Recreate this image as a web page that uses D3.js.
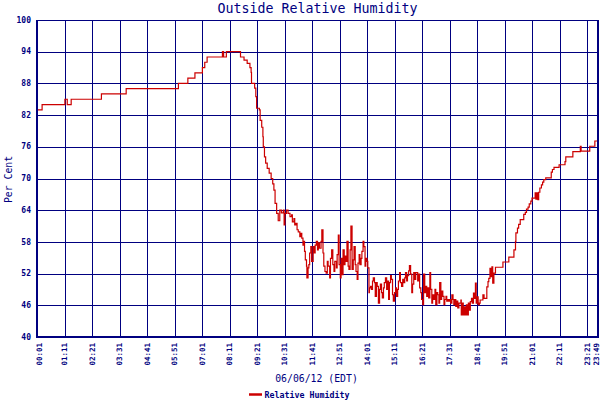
<!DOCTYPE html>
<html>
<head>
<meta charset="utf-8">
<script src="https://cdn.jsdelivr.net/npm/d3@7"></script>
<style>
  html, body { margin: 0; padding: 0; background: #fff; }
  svg { display: block; }
</style>
</head>
<body>
<svg id="chart" width="600" height="400"></svg>
<script>
// ---- Data (minutes after midnight, relative humidity %) ----
const times = [
  1, 14, 72, 78, 88, 165, 228, 361, 385, 403, 422, 428, 434, 473, 476, 483,
  519, 528, 536, 543, 546, 547, 555, 558, 560, 567, 569, 573, 576, 577, 580, 583, 587, 592, 597, 601, 604, 607, 611, 615,
  619, 623, 628, 630, 632, 636, 640, 645, 649, 651, 655, 657, 660, 663, 666, 670, 672, 675, 678, 680, 682, 684, 687, 688,
  691, 693, 695, 698, 700, 704, 706, 709, 712, 715, 717, 720, 724, 726, 729, 731, 734, 737, 740, 742, 746, 748, 751, 754,
  757, 759, 763, 765, 768, 770, 773, 775, 778, 780, 783, 785, 788, 790, 793, 795, 798, 800, 803, 806, 808, 811, 813, 816,
  818, 821, 823, 826, 828, 831, 833, 836, 838, 841, 843, 846,
  847, 850, 852, 855, 857, 860, 862, 865, 867, 870, 873, 875, 878, 880, 883, 885, 888, 891, 893, 896, 898, 901, 903, 906,
  908, 911, 914, 916, 919, 921, 924, 926, 929, 932, 934, 937, 939, 942, 944, 947, 949, 952, 955, 957, 960, 962, 965, 967,
  970, 973, 975, 978, 980, 983, 985, 988, 990, 993, 996, 998, 1001, 1003, 1006, 1008, 1011, 1014, 1016, 1019, 1021, 1024,
  1026, 1029, 1031, 1034, 1037, 1039, 1042, 1044, 1047, 1049, 1052, 1054, 1057, 1060, 1062, 1065, 1067, 1070, 1072, 1075,
  1077, 1080, 1081, 1084, 1086, 1089, 1092, 1094, 1097, 1099, 1102, 1104, 1107, 1109, 1112, 1114, 1117, 1119, 1122, 1124,
  1127, 1129, 1133, 1136, 1139, 1143, 1146, 1149, 1151, 1154, 1156, 1159, 1161, 1164, 1168, 1187, 1202, 1215, 1219, 1220,
  1224, 1227, 1231, 1240, 1244, 1247, 1251, 1254, 1258, 1261, 1269, 1271, 1274, 1276, 1278, 1281, 1285, 1288, 1291, 1296,
  1310, 1313, 1317, 1330, 1345, 1347, 1365, 1384, 1386, 1408, 1421, 1429
];
const humidity = [
  83, 84, 85, 84, 85, 86, 87, 88, 89, 90, 91, 92, 93, 94, 93, 94,
  93, 92.4, 91.8, 91, 90.1, 88, 87.1, 85.5, 83.3, 83, 81, 79.7, 77.9, 76, 74.1, 72.9, 71.9, 71, 70, 69, 67.8, 65.3, 63.4, 62,
  64, 63.5, 64, 61.2, 63.4, 64, 63.4, 62.8, 63.1, 61.8, 62.4, 61.2, 61.5, 60.3, 59.9, 59, 59.6, 58.7, 57.4, 58.1, 56.2, 54.6, 53.4, 51.2,
  53.1, 53.7, 55.9, 57.1, 54.3, 57.1, 55.9, 57.4, 58.1, 56.5, 57.8, 56.8, 58.1, 60.3, 55.9, 53.4, 52.4, 52.1, 54.3, 53.4, 51.2, 54.9, 56.5, 53.7,
  52.4, 54.3, 53.1, 55.6, 59.3, 53.7, 51.2, 54.9, 51.8, 56.5, 53.7, 55.3, 54.3, 58.1, 53.4, 52.8, 56.5, 61, 52.8, 54.6, 57.1, 53.7, 52.4, 50.9,
  54, 55.6, 53.7, 54.9, 56.2, 58.1, 57.1, 53.4, 54.9, 54.3, 53.1, 48.4,
  49.3, 49.6, 49, 50.6, 51.2, 50.3, 47.7, 50.3, 49.6, 46.4, 49, 50, 48.4, 47.4, 49.3, 50.3, 51.2, 49, 50.6, 47.1, 50.3, 51.6, 50.9, 48,
  46.8, 48.4, 49.3, 47.7, 49, 50.6, 52.2, 50.3, 49.6, 50.9, 50.3, 51.2, 52.2, 50.6, 51.6, 52.5, 53.5, 51.9, 48.4, 50, 52.2, 50.9, 52.2, 52.2,
  50.6, 51.9, 49.3, 48.4, 47.1, 46.1, 51.9, 48.4, 49.6, 47.7, 49.3, 47.4, 52.2, 49, 46.4, 48, 47.1, 49, 46.1, 48.4, 48, 46.4,
  50.3, 47.1, 48.7, 47.7, 46.1, 47.1, 47.7, 46.8, 47.1, 46.8, 47.1, 46.4, 48, 47.1, 46.1, 47.1, 45.8, 46.8, 45.5, 46.4,
  46.4, 47, 44.2, 46.4, 44.2, 45.7, 44.2, 46.1, 44.2, 46.4, 45.1, 46.7, 47.3, 46.4, 48.3, 47.3, 50.2, 46.4, 47.6, 46.1,
  46.4, 47, 47, 48, 47.3, 47.3, 49.5, 50.5, 51.1, 53, 51.4, 53.3, 50.2, 52.1, 53.2, 54.2, 55.1, 56.5, 58.1, 59.7,
  60.6, 61.3, 62.2, 63.2, 63.6, 64.2, 64.6, 65.2, 65.7, 66.3, 67.3, 66.1, 67.3, 66, 67.4, 68.2, 68.8, 69.3, 69.8, 70.1,
  71.2, 71.7, 72.1, 72.6, 73.2, 74.1, 75.1, 76.1, 75.2, 76.1, 77.1, 77.1
];
const xTickLabels = ["00:01","01:11","02:21","03:31","04:41","05:51","07:01","08:11","09:21","10:31","11:41",
  "12:51","14:01","15:11","16:21","17:31","18:41","19:51","21:01","22:11","23:21","23:49"];
const yTickValues = [40, 46, 52, 58, 64, 70, 76, 82, 88, 94, 100];
const titleText = "Outside Relative Humidity";
const xTitleText = "06/06/12 (EDT)";
const yTitleText = "Per Cent";
const seriesName = "Relative Humidity";

// ---- Layout ----
const navy = "#000080", red = "#cc0000";
const plotL = 37, plotR = 598, plotT = 20, plotB = 337;
const mono = "'DejaVu Sans Mono', 'Liberation Mono', monospace";

const toMin = s => { const [h, m] = s.split(":").map(Number); return h * 60 + m; };
const tickMins = xTickLabels.map(toMin);

const x = d3.scaleLinear().domain([tickMins[0], tickMins[tickMins.length - 1]]).range([plotL, plotR]);
const y = d3.scaleLinear().domain([40, 100]).range([plotB, plotT]);

const svg = d3.select("#chart");
svg.append("rect").attr("width", 600).attr("height", 400).attr("fill", "#fff");

const grid = svg.append("g").attr("shape-rendering", "crispEdges");
grid.selectAll("line.v").data(tickMins.slice(1, -1)).join("line")
  .attr("x1", d => Math.round(x(d)) + 0.5).attr("x2", d => Math.round(x(d)) + 0.5)
  .attr("y1", plotT).attr("y2", plotB)
  .attr("stroke", navy).attr("stroke-width", 1);
grid.selectAll("line.h").data(yTickValues.slice(1, -1)).join("line")
  .attr("x1", plotL).attr("x2", plotR)
  .attr("y1", d => Math.round(y(d)) + 0.5).attr("y2", d => Math.round(y(d)) + 0.5)
  .attr("stroke", navy).attr("stroke-width", 1);

// data line
const pts = times.map((t, i) => [t, humidity[i]]);
const line = d3.line().x(d => x(d[0])).y(d => y(d[1])).curve(d3.curveStepAfter);
svg.append("path").datum(pts).attr("d", line)
  .attr("fill", "none").attr("stroke", red).attr("stroke-width", 1.2)
  .attr("stroke-linejoin", "miter");

// frame
const frame = svg.append("g").attr("shape-rendering", "crispEdges").attr("stroke", navy);
frame.append("line").attr("x1", plotL).attr("x2", plotR).attr("y1", plotT + 0.5).attr("y2", plotT + 0.5).attr("stroke-width", 1);
frame.append("line").attr("x1", plotL).attr("x2", plotL).attr("y1", plotT).attr("y2", plotB + 1).attr("stroke-width", 2);
frame.append("line").attr("x1", plotR).attr("x2", plotR).attr("y1", plotT).attr("y2", plotB + 1).attr("stroke-width", 2);
frame.append("line").attr("x1", plotL - 1).attr("x2", plotR + 1).attr("y1", plotB).attr("y2", plotB).attr("stroke-width", 2);

// y tick labels
svg.append("g").selectAll("text").data(yTickValues).join("text")
  .attr("x", 31).attr("y", d => y(d) + 2.6)
  .attr("text-anchor", "end")
  .attr("font-family", mono).attr("font-size", 8).attr("font-weight", "bold")
  .attr("fill", navy).text(d => d);

// x tick labels (rotated, centred on their grid line, kept inside the plot edges)
svg.append("g").selectAll("text").data(xTickLabels).join("text")
  .attr("transform", d => {
    const bx = Math.max(plotL + 5, Math.min(plotR + 0.5, x(toMin(d)) + 2.7));
    return `translate(${bx},343) rotate(-90)`;
  })
  .attr("text-anchor", "end")
  .attr("font-family", mono).attr("font-size", 7.5).attr("font-weight", "bold")
  .attr("fill", navy).text(d => d);

// title
svg.append("text").attr("x", (plotL + plotR) / 2).attr("y", 13)
  .attr("text-anchor", "middle").attr("font-family", mono).attr("font-size", 13.3)
  .attr("fill", navy).text(titleText);

// x axis title
svg.append("text").attr("x", 316.5).attr("y", 381.5)
  .attr("text-anchor", "middle").attr("font-family", mono).attr("font-size", 9.8)
  .attr("fill", navy).text(xTitleText);

// y axis title
svg.append("text").attr("transform", "translate(11.5,179.5) rotate(-90)")
  .attr("text-anchor", "middle").attr("font-family", mono).attr("font-size", 9.8)
  .attr("fill", navy).text(yTitleText);

// legend
svg.append("line").attr("x1", 249).attr("x2", 262).attr("y1", 394.5).attr("y2", 394.5)
  .attr("stroke", red).attr("stroke-width", 2.5);
svg.append("text").attr("x", 264.5).attr("y", 398)
  .attr("font-family", mono).attr("font-size", 8.3).attr("font-weight", "bold")
  .attr("fill", navy).text(seriesName);
</script>
</body>
</html>
